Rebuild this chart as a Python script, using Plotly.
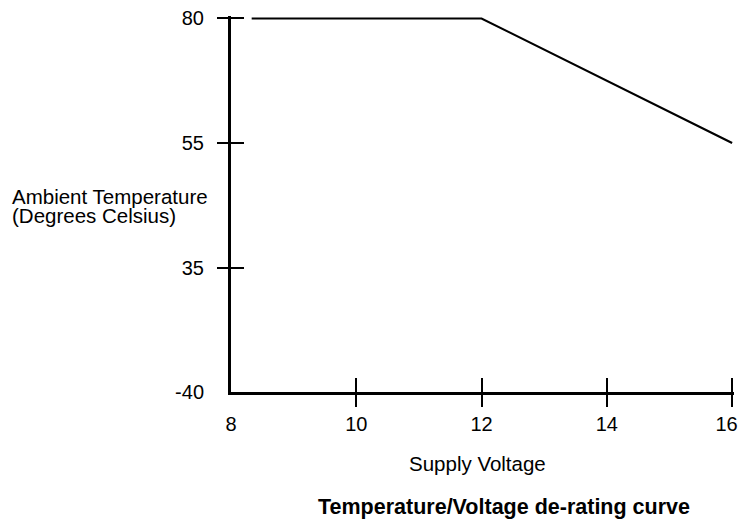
import plotly.graph_objects as go

# Data
voltage = [8.33, 12, 16]
temperature = ["80", "80", "55"]
temp_categories = ["-40", "35", "55", "80"]
temp_ticks_marked = ["35", "55", "80"]
volt_ticks = [8, 10, 12, 14, 16]
volt_tick_labels = ["8", "10", "12", "14", "16"]
volt_ticks_marked = [10, 12, 14, 16]

FONT = "Liberation Sans, Arial, Helvetica, sans-serif"
XR = [8, 16.03]
YR = [0, 3.02]

# keep the last x label inside the page (nudged left with trailing no-break spaces)
x_ticktext = volt_tick_labels[:-1] + [volt_tick_labels[-1] + "\u00a0\u00a0"]

fig = go.Figure()
fig.add_trace(go.Scatter(x=voltage, y=temperature, mode="lines",
                         line=dict(color="black", width=2.2),
                         xaxis="x", yaxis="y", showlegend=False, hoverinfo="skip"))
# invisible traces to host the overlay tick axes
for ax in ("2", "3"):
    fig.add_trace(go.Scatter(x=voltage, y=temperature, mode="lines",
                             line=dict(color="rgba(0,0,0,0)", width=0),
                             xaxis="x" + ax, yaxis="y" + ax, showlegend=False,
                             hoverinfo="skip"))

base_x = dict(range=XR, showgrid=False, zeroline=False, fixedrange=True,
              automargin=False)
base_y = dict(range=YR, type="category", categoryorder="array",
              categoryarray=temp_categories, showgrid=False, zeroline=False,
              fixedrange=True, automargin=False)

fig.update_layout(
    width=741, height=521,
    margin=dict(l=231, r=7, t=16, b=128.5, pad=0),
    plot_bgcolor="white", paper_bgcolor="white",
    font=dict(family=FONT, color="black"),
    xaxis=dict(**base_x, tickvals=volt_ticks, ticktext=x_ticktext,
               ticks="outside", ticklen=12,
               tickcolor="rgba(0,0,0,0)", showline=True, linewidth=3,
               linecolor="black", tickfont=dict(size=20, family=FONT),
               ticklabeloverflow="allow"),
    yaxis=dict(**base_y, tickvals=temp_categories, ticks="outside", ticklen=20,
               tickcolor="rgba(0,0,0,0)", showline=True, linewidth=3,
               linecolor="black", tickfont=dict(size=20, family=FONT)),
    xaxis2=dict(**base_x, overlaying="x", anchor="y2", tickvals=volt_ticks_marked,
                ticks="outside", ticklen=14, tickwidth=1.5, tickcolor="black",
                showticklabels=False, showline=False),
    yaxis2=dict(**base_y, overlaying="y", anchor="x2", tickvals=temp_ticks_marked,
                ticks="outside", ticklen=13, tickwidth=1.5, tickcolor="black",
                showticklabels=False, showline=False),
    xaxis3=dict(**base_x, overlaying="x", anchor="y3", tickvals=volt_ticks_marked,
                ticks="inside", ticklen=14, tickwidth=1.5, tickcolor="black",
                showticklabels=False, showline=False),
    yaxis3=dict(**base_y, overlaying="y", anchor="x3", tickvals=temp_ticks_marked,
                ticks="inside", ticklen=13, tickwidth=1.5, tickcolor="black",
                showticklabels=False, showline=False),
    annotations=[
        dict(text="Ambient Temperature", xref="paper", yref="paper",
             x=-0.44, y=0.52, xanchor="left", yanchor="middle", showarrow=False,
             font=dict(size=20.5, family=FONT)),
        dict(text="(Degrees Celsius)", xref="paper", yref="paper",
             x=-0.44, y=0.47, xanchor="left", yanchor="middle", showarrow=False,
             font=dict(size=20.5, family=FONT)),
        dict(text="Supply Voltage", xref="paper", yref="paper",
             x=0.49, y=-0.19, xanchor="center", yanchor="middle", showarrow=False,
             font=dict(size=20.5, family=FONT)),
        dict(text="<b>Temperature/Voltage de-rating curve</b>", xref="paper",
             yref="paper", x=0.543, y=-0.305, xanchor="center", yanchor="middle",
             showarrow=False, font=dict(size=21.5, family=FONT)),
    ],
)

fig.write_html("out.html", config={"displayModeBar": False},
               post_script="document.body.style.margin='0';document.body.style.padding='0';")
